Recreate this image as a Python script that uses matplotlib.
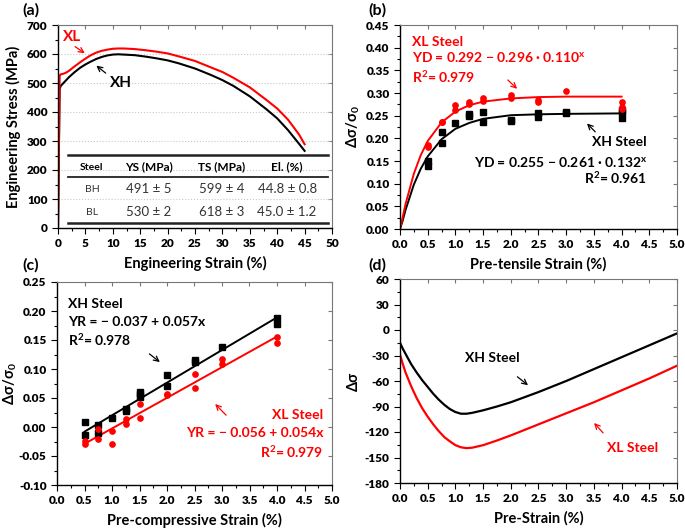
import matplotlib
matplotlib.use('Agg')
from matplotlib import pyplot as plt
from matplotlib.ticker import MultipleLocator, FormatStrFormatter

plt.rcParams['font.family'] = ['Lato', 'DejaVu Sans']
plt.rcParams['font.weight'] = 'bold'
plt.rcParams['mathtext.fontset'] = 'custom'
plt.rcParams['mathtext.rm'] = 'Lato:bold'
plt.rcParams['mathtext.default'] = 'regular'
plt.rcParams['axes.unicode_minus'] = False

# (a) engineering stress-strain curves
xh_strain = [0, 0.3, 0.5, 1, 1.5, 2, 3, 4, 5, 6, 7, 8, 9, 10, 11, 12, 14, 16, 18, 20,
             22, 25, 28, 30, 32, 35, 38, 40, 42, 44, 45]
xh_stress = [0, 480, 490, 500, 510, 520, 537, 552, 564, 574, 583, 590, 595, 598, 599, 598, 596, 591, 585, 578,
             568, 550, 527, 510, 490, 454, 410, 378, 337, 290, 266]
xl_strain = [0, 0.3, 0.5, 1, 1.5, 2, 3, 4, 5, 6, 7, 8, 9, 10, 11, 12, 14, 16, 18, 20,
             22, 25, 28, 30, 32, 35, 38, 40, 42, 44, 45]
xl_stress = [0, 525, 530, 532, 536, 542, 557, 571, 584, 596, 605, 611, 615, 618, 619, 619, 617, 613, 608, 602,
             592, 576, 553, 538, 518, 485, 442, 412, 373, 322, 289]

table_header = ['Steel', 'YS (MPa)', 'TS (MPa)', 'El. (%)']
table_rows = [['BH', '491 ± 5', '599 ± 4', '44.8 ± 0.8'],
              ['BL', '530 ± 2', '618 ± 3', '45.0 ± 1.2']]

# (b) pre-tensile
b_xl_x = [0.5, 0.5, 0.75, 0.75, 1.0, 1.0, 1.25, 1.25, 1.5, 1.5, 2.0, 2.0, 2.5, 2.5, 3.0, 4.0, 4.0, 4.0]
b_xl_y = [0.185, 0.180, 0.237, 0.235, 0.273, 0.262, 0.280, 0.276, 0.290, 0.283, 0.295, 0.288, 0.285, 0.280, 0.305, 0.280, 0.270, 0.265]
b_xh_x = [0.5, 0.5, 0.75, 0.75, 1.0, 1.25, 1.25, 1.5, 1.5, 2.0, 2.0, 2.5, 2.5, 3.0, 3.0, 4.0, 4.0, 4.0]
b_xh_y = [0.150, 0.140, 0.215, 0.190, 0.234, 0.253, 0.250, 0.258, 0.235, 0.240, 0.238, 0.255, 0.247, 0.257, 0.255, 0.262, 0.258, 0.245]
b_fit_x = [0, 0.05, 0.1, 0.25, 0.375, 0.5, 0.75, 1.0, 1.25, 1.5, 2.0, 2.5, 3.0, 4.0]
b_fit_xl = [0, 0.027, 0.055, 0.122, 0.163, 0.194, 0.235, 0.259, 0.273, 0.281, 0.288, 0.291, 0.292, 0.292]
b_fit_xh = [0, 0.019, 0.042, 0.098, 0.133, 0.160, 0.198, 0.221, 0.234, 0.243, 0.251, 0.253, 0.254, 0.255]

# (c) pre-compressive
c_xh_x = [0.5, 0.5, 0.75, 0.75, 1.0, 1.25, 1.25, 1.5, 1.5, 1.5, 2.0, 2.0, 2.5, 2.5, 3.0, 4.0, 4.0]
c_xh_y = [0.009, -0.013, 0.004, -0.010, 0.016, 0.028, 0.031, 0.057, 0.052, 0.060, 0.089, 0.071, 0.116, 0.112, 0.138, 0.188, 0.177]
c_xl_x = [0.5, 0.5, 0.75, 0.75, 1.0, 1.0, 1.25, 1.25, 1.5, 1.5, 2.0, 2.0, 2.5, 2.5, 3.0, 3.0, 4.0, 4.0]
c_xl_y = [-0.024, -0.029, -0.003, -0.020, -0.007, -0.029, 0.014, 0.006, 0.040, 0.016, 0.057, 0.055, 0.092, 0.067, 0.117, 0.109, 0.155, 0.145]
c_fit_x = [0.5, 4.0]
c_fit_xh = [-0.008, 0.189]
c_fit_xl = [-0.029, 0.156]

# (d) pre-strain
d_x = [0, 0.05, 0.1, 0.2, 0.3, 0.4, 0.5, 0.6, 0.7, 0.8, 0.9, 1.0, 1.1, 1.2, 1.3, 1.5, 1.75,
       2.0, 2.5, 3.0, 3.5, 4.0, 4.5, 5.0]
d_xh = [-15, -22, -28, -40, -50, -59, -67, -75, -82, -88, -93, -96.5, -98.5, -98.5, -97.5, -94.5, -90,
        -85, -73, -60, -46, -32, -18, -4]
d_xl = [-29, -40, -50, -66, -80, -92, -102, -111, -119, -126, -131, -135.5, -138, -139, -138.5, -135.5, -130,
        -124, -111, -98, -85, -71, -57, -42]

W, H = 685, 529
fig = plt.figure(figsize=(W / 100, H / 100), dpi=100)
axes = []


def make_ax(l, r, t, b):
    a = fig.add_axes([l / W, 1 - b / H, (r - l) / W, (b - t) / H])
    axes.append(a)
    return a


def style(ax, xmaj, xmin, ymaj, ymin, xfmt, yfmt):
    ax.xaxis.set_major_locator(MultipleLocator(xmaj))
    ax.xaxis.set_minor_locator(MultipleLocator(xmin))
    ax.yaxis.set_major_locator(MultipleLocator(ymaj))
    ax.yaxis.set_minor_locator(MultipleLocator(ymin))
    ax.xaxis.set_major_formatter(FormatStrFormatter(xfmt))
    ax.yaxis.set_major_formatter(FormatStrFormatter(yfmt))
    ax.tick_params(which='both', direction='out', labelsize=8.5, width=0.8)
    ax.tick_params(which='major', length=4)
    ax.tick_params(which='minor', length=2)
    for s in ['top', 'right']:
        ax.spines[s].set_color('#777777')
    for s in ['left', 'bottom']:
        ax.spines[s].set_linewidth(1.0)
    sx = ax.secondary_xaxis('top')
    sx.xaxis.set_major_locator(MultipleLocator(xmaj))
    sx.xaxis.set_minor_locator(MultipleLocator(xmin))
    sx.tick_params(which='both', direction='in', labeltop=False, color='#777777')
    sx.tick_params(which='major', length=3)
    sx.tick_params(which='minor', length=0)
    sx.spines['top'].set_visible(False)
    sy = ax.secondary_yaxis('right')
    sy.yaxis.set_major_locator(MultipleLocator(ymaj))
    sy.yaxis.set_minor_locator(MultipleLocator(ymin))
    sy.tick_params(which='both', direction='in', labelright=False, color='#777777')
    sy.tick_params(which='major', length=3)
    sy.tick_params(which='minor', length=0)
    sy.spines['right'].set_visible(False)


arrow = dict(arrowstyle='->', lw=0.9, mutation_scale=9)
LFS = 10.5   # axis label size
AFS = 10     # annotation size
XPAD = 5

# ---- (a)
ax = make_ax(58, 332, 25, 228)
ax.plot(xh_strain, xh_stress, color='black', lw=1.5)
ax.plot(xl_strain, xl_stress, color='red', lw=1.5)
ax.set_xlim(0, 50)
ax.set_ylim(0, 700)
style(ax, 5, 2.5, 100, 50, '%d', '%d')
ax.yaxis.grid(True, ls=':', color='#c8c8c8', lw=0.8)
ax.set_xlabel('Engineering Strain (%)', fontsize=LFS, fontweight='bold', labelpad=XPAD)
ax.set_ylabel('Engineering Stress (MPa)', fontsize=LFS, fontweight='bold', labelpad=4)
ax.text(0.9, 660, 'XL', color='red', fontsize=11, fontweight='bold', va='center')
ax.annotate('', xy=(5.3, 597), xytext=(2.7, 631), arrowprops=dict(arrow, color='red'))
ax.text(9.5, 500, 'XH', color='black', fontsize=11, fontweight='bold', va='center')
ax.annotate('', xy=(6.6, 566), xytext=(9.1, 528), arrowprops=dict(arrow, color='black'))
# table
for yl, lw in [(252, 1.8), (176, 1.3), (17, 1.8)]:
    ax.plot([1.8, 49.3], [yl, yl], color='#222222', lw=lw)
col_x = [6.2, 16.6, 29.9, 41.8]
for i, (cx, h) in enumerate(zip(col_x, table_header)):
    ax.text(cx, 210, h, ha='center', va='center', fontsize=7.5 if i == 0 else 8.5, fontweight='bold')
for ry, row in zip([134, 55], table_rows):
    for i, (cx, v) in enumerate(zip(col_x, row)):
        ax.text(cx, ry, v, ha='center', va='center', fontsize=7.5 if i == 0 else 9.5,
                fontweight='normal', color='#333333')
fig.text(22 / W, 1 - 10 / H, '(a)', fontsize=11.5, fontweight='bold', va='center')

# ---- (b)
ax = make_ax(400, 677, 25, 229)
ax.plot(b_fit_x, b_fit_xh, color='black', lw=1.4)
ax.plot(b_fit_x, b_fit_xl, color='red', lw=1.4)
ax.plot(b_xh_x, b_xh_y, 's', color='black', ms=3.8)
ax.plot(b_xl_x, b_xl_y, 'o', color='red', ms=3.8)
ax.set_xlim(0, 5)
ax.set_ylim(0, 0.45)
style(ax, 0.5, 0.25, 0.05, 0.025, '%.1f', '%.2f')
ax.set_xlabel('Pre-tensile Strain (%)', fontsize=LFS, fontweight='bold', labelpad=XPAD)
ax.set_ylabel(r'Δσ/σ$_0$', fontsize=LFS, fontweight='bold', labelpad=3)
ax.text(0.22, 0.413, 'XL Steel', color='red', fontsize=AFS, fontweight='bold', va='center')
ax.text(0.22, 0.38, r'YD = 0.292 − 0.296 · 0.110$^x$', color='red', fontsize=AFS, fontweight='bold', va='center')
ax.text(0.22, 0.335, r'R$^2$= 0.979', color='red', fontsize=AFS, fontweight='bold', va='center')
ax.annotate('', xy=(2.15, 0.305), xytext=(1.91, 0.333), arrowprops=dict(arrow, color='red'))
ax.text(4.46, 0.192, 'XH Steel', color='black', fontsize=AFS, fontweight='bold', va='center', ha='right')
ax.text(4.46, 0.148, r'YD = 0.255 − 0.261 · 0.132$^x$', color='black', fontsize=AFS, fontweight='bold', va='center', ha='right')
ax.text(4.46, 0.113, r'R$^2$= 0.961', color='black', fontsize=AFS, fontweight='bold', va='center', ha='right')
ax.annotate('', xy=(3.34, 0.237), xytext=(3.56, 0.21), arrowprops=dict(arrow, color='black'))
fig.text(368 / W, 1 - 10 / H, '(b)', fontsize=11.5, fontweight='bold', va='center')

# ---- (c)
ax = make_ax(57, 332, 282, 485)
ax.plot(c_fit_x, c_fit_xh, color='black', lw=1.4)
ax.plot(c_fit_x, c_fit_xl, color='red', lw=1.4)
ax.plot(c_xh_x, c_xh_y, 's', color='black', ms=3.8)
ax.plot(c_xl_x, c_xl_y, 'o', color='red', ms=3.8)
ax.set_xlim(0, 5)
ax.set_ylim(-0.10, 0.25)
style(ax, 0.5, 0.25, 0.05, 0.025, '%.1f', '%.2f')
ax.set_xlabel('Pre-compressive Strain (%)', fontsize=LFS, fontweight='bold', labelpad=XPAD)
ax.set_ylabel(r'Δσ/σ$_0$', fontsize=LFS, fontweight='bold', labelpad=0)
ax.text(0.2, 0.212, 'XH Steel', color='black', fontsize=AFS, fontweight='bold', va='center')
ax.text(0.2, 0.181, 'YR = − 0.037 + 0.057x', color='black', fontsize=AFS, fontweight='bold', va='center')
ax.text(0.2, 0.15, r'R$^2$= 0.978', color='black', fontsize=AFS, fontweight='bold', va='center')
ax.annotate('', xy=(1.91, 0.109), xytext=(1.64, 0.129), arrowprops=dict(arrow, color='black'))
ax.text(4.84, 0.021, 'XL Steel', color='red', fontsize=AFS, fontweight='bold', va='center', ha='right')
ax.text(4.84, -0.01, 'YR = − 0.056 + 0.054x', color='red', fontsize=AFS, fontweight='bold', va='center', ha='right')
ax.text(4.84, -0.043, r'R$^2$= 0.979', color='red', fontsize=AFS, fontweight='bold', va='center', ha='right')
ax.annotate('', xy=(2.84, 0.043), xytext=(3.11, 0.017), arrowprops=dict(arrow, color='red'))
fig.text(22 / W, 1 - 265 / H, '(c)', fontsize=11.5, fontweight='bold', va='center')

# ---- (d)
ax = make_ax(400, 677, 279, 483)
ax.plot(d_x, d_xh, color='black', lw=1.6)
ax.plot(d_x, d_xl, color='red', lw=1.6)
ax.set_xlim(0, 5)
ax.set_ylim(-180, 60)
style(ax, 0.5, 0.25, 30, 15, '%.1f', '%d')
ax.set_xlabel('Pre-Strain (%)', fontsize=LFS, fontweight='bold', labelpad=XPAD)
ax.set_ylabel('Δσ', fontsize=LFS, fontweight='bold', labelpad=3)
ax.text(1.17, -33, 'XH Steel', color='black', fontsize=AFS, fontweight='bold', va='center')
ax.annotate('', xy=(2.35, -67), xytext=(2.08, -53), arrowprops=dict(arrow, color='black'))
ax.text(3.74, -139, 'XL Steel', color='red', fontsize=AFS, fontweight='bold', va='center')
ax.annotate('', xy=(3.47, -107), xytext=(3.7, -123.5), arrowprops=dict(arrow, color='red'))
fig.text(368 / W, 1 - 265 / H, '(d)', fontsize=11.5, fontweight='bold', va='center')

fig.canvas.draw()
for a in axes:
    for lab in a.get_xticklabels() + a.get_yticklabels():
        lab.set_fontweight('heavy')

plt.savefig('out.png', dpi=100)
